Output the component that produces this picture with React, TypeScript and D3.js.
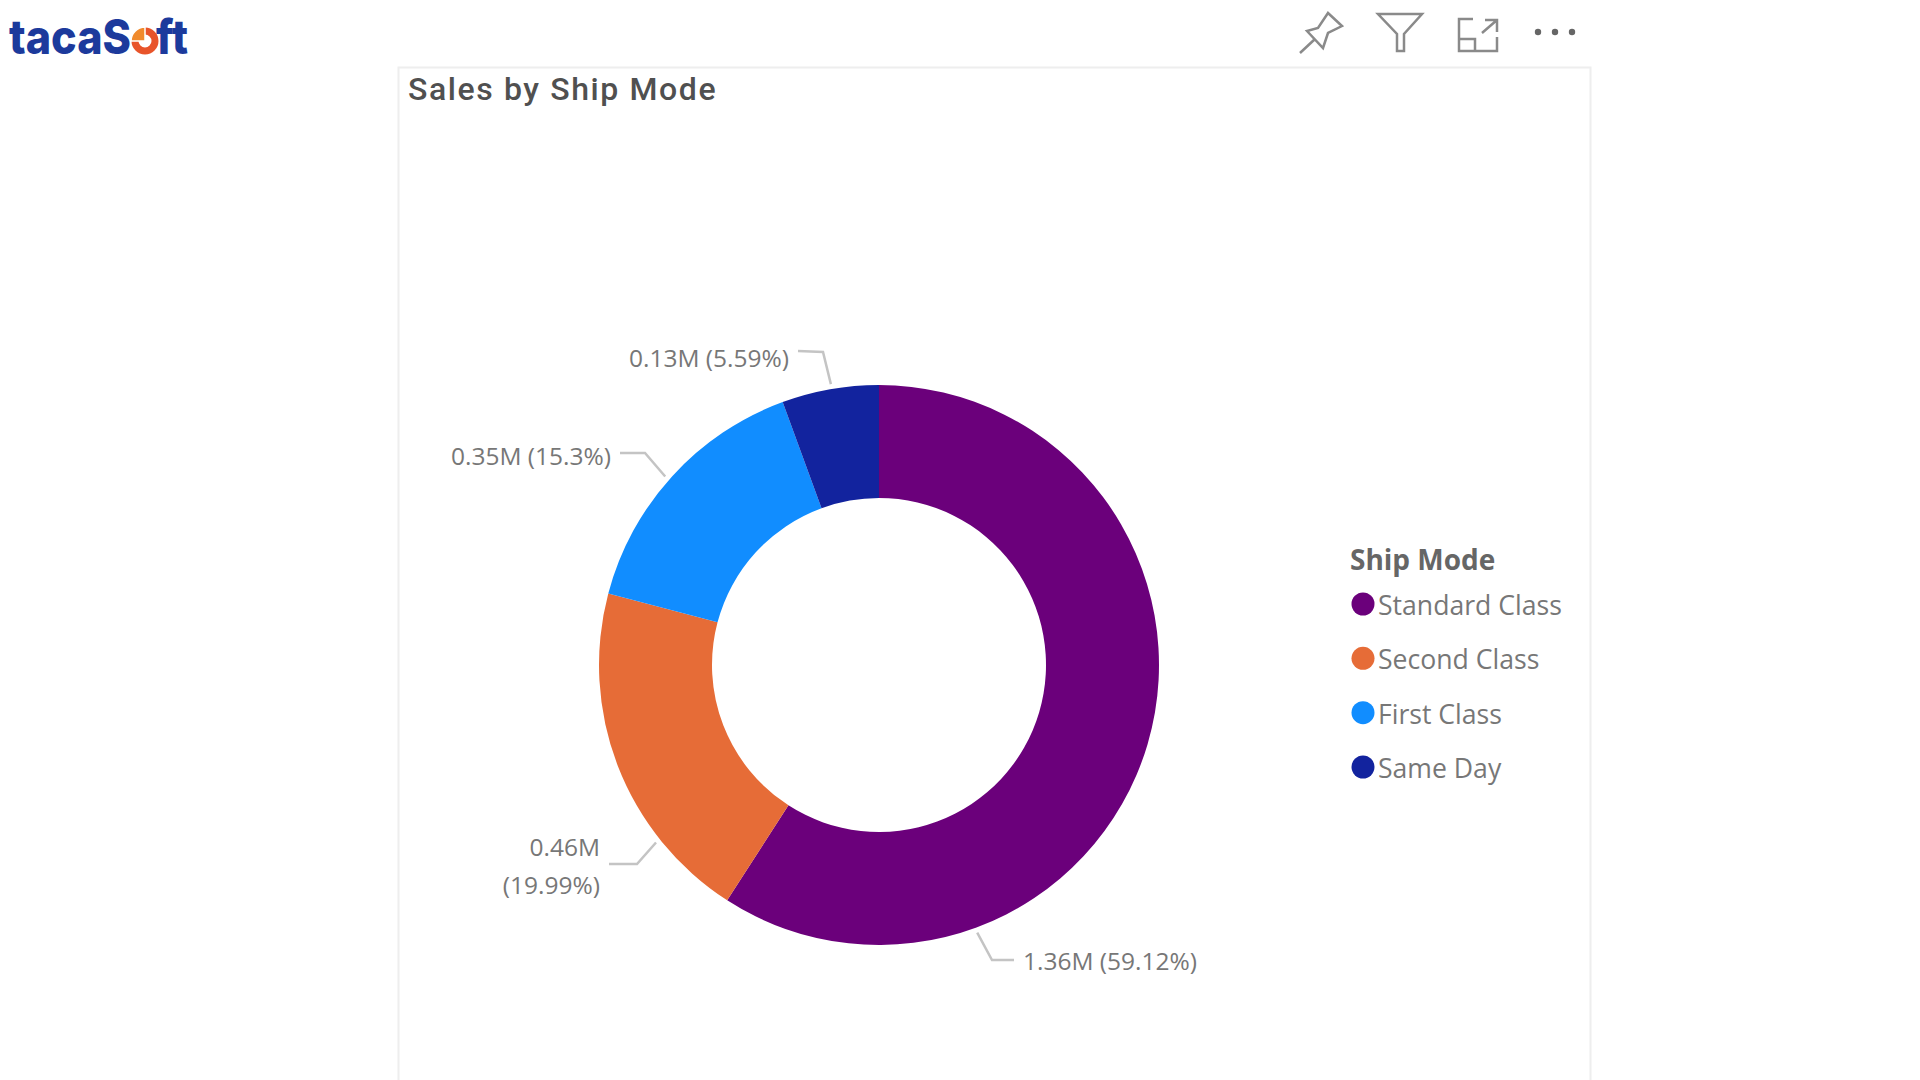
import React from 'react';
import * as d3 from 'd3';

// Ship modes in legend / slice order
const shipModes = ['Standard Class', 'Second Class', 'First Class', 'Same Day'];
const sharePct = [59.12, 19.99, 15.3, 5.59];
const sliceColors = ['#6B007B', '#E66C37', '#118DFF', '#12239E'];

// Data labels, as printed
const labelLines = [['1.36M (59.12%)'], ['0.46M', '(19.99%)'], ['0.35M (15.3%)'], ['0.13M (5.59%)']];

// Where each leader line touches the ring, as share of the full turn (Power BI moves them off mid-slice)
const leaderAnchor = [0.444, 0.643, 0.865, 0.973];
const leaderElbow = [[992, 960], [637, 864], [645, 453], [823, 352]];
const leaderEnd = [[1014, 960], [609, 864], [620, 453], [798, 351]];
const labelAt = [[1023, 970], [600, 856], [611, 465], [789, 367]];
const labelAnchor = ['start', 'end', 'end', 'end'];

const WIDTH = 1920;
const HEIGHT = 1080;
const cx = 879;
const cy = 665;
const outerR = 280;
const innerR = 167;

const FONT = '"Open Sans", sans-serif';

const App: React.FC = () => {
  const pie = d3.pie<number>().sort(null).value(d => d);
  const arc = d3.arc<d3.PieArcDatum<number>>().innerRadius(innerR).outerRadius(outerR);
  const slices = pie(sharePct);

  const legendY = d3.scalePoint<string>().domain(shipModes).range([604, 767]);

  return (
    <svg
      width={WIDTH}
      height={HEIGHT}
      style={{ position: 'absolute', left: 0, top: 0, background: '#fff' }}
    >
      {/* logo */}
      <g fill="#1C3A9C" fontFamily="Inter, sans-serif" fontWeight={800} fontSize={48}>
        <text x={9} y={54} textLength={122} lengthAdjust="spacingAndGlyphs">tacaS</text>
        <text x={156} y={54} textLength={32} lengthAdjust="spacingAndGlyphs">ft</text>
      </g>
      <circle cx={145} cy={41} r={10} fill="none" stroke="#E8542A" strokeWidth={7} />
      <path d="M145,41 L145,27 A14,14 0 0 0 131,41 Z" fill="#F08A2C" stroke="#fff" strokeWidth={1.5} />

      {/* toolbar icons */}
      <g fill="none" stroke="#8A8A8A" strokeWidth={2.5}>
        <path d="M1300,53 L1315,39 M1307,31 L1318,28 L1328,13 L1342,26 L1328,33 L1323,48 Z" />
        <path d="M1378,14 L1422,14 L1404,34 L1404,51 L1397,51 L1397,34 Z" />
        <path d="M1473,19 L1459,19 L1459,51 L1497,51 L1497,37 M1459,39 L1475,39 L1475,51 M1482,33 L1497,20 M1485,20 L1497,20 L1497,32" />
      </g>
      <g fill="#666">
        <circle cx={1538} cy={32} r={3.2} />
        <circle cx={1555} cy={32} r={3.2} />
        <circle cx={1572} cy={32} r={3.2} />
      </g>

      {/* visual card */}
      <path d="M398.5,1080 L398.5,67.5 L1590.5,67.5 L1590.5,1080" fill="none" stroke="#EEEEEE" strokeWidth={2} />
      <text x={408} y={100} fontFamily="Roboto, sans-serif" fontWeight={500} fontSize={32} fill="#505050" letterSpacing={1.6}>
        Sales by Ship Mode
      </text>

      {/* donut */}
      <g transform={`translate(${cx},${cy})`}>
        {slices.map((s, i) => (
          <path key={shipModes[i]} d={arc(s) || ''} fill={sliceColors[i]} />
        ))}
      </g>

      {/* leader lines and data labels */}
      {labelLines.map((lines, i) => {
        const [ax, ay] = d3.pointRadial(leaderAnchor[i] * 2 * Math.PI, outerR + 5);
        const line = d3.line()([[cx + ax, cy + ay], leaderElbow[i] as [number, number], leaderEnd[i] as [number, number]]);
        return (
          <g key={lines[0]}>
            <path d={line || ''} fill="none" stroke="#C4C4C4" strokeWidth={2.5} />
            {lines.map((t, j) => (
              <text
                key={t}
                x={labelAt[i][0]}
                y={labelAt[i][1] + j * 38}
                textAnchor={labelAnchor[i] as 'start' | 'end'}
                fontFamily={FONT}
                fontSize={24.5}
                fill="#777"
              >
                {t}
              </text>
            ))}
          </g>
        );
      })}

      {/* legend */}
      <text x={1350} y={570} fontFamily={FONT} fontSize={28} fontWeight={700} fill="#666">
        Ship Mode
      </text>
      {shipModes.map((m, i) => (
        <g key={m}>
          <circle cx={1363} cy={legendY(m)} r={11.5} fill={sliceColors[i]} />
          <text x={1378} y={(legendY(m) || 0) + 11} fontFamily={FONT} fontSize={26.6} fill="#777">
            {m}
          </text>
        </g>
      ))}
    </svg>
  );
};

export default App;
